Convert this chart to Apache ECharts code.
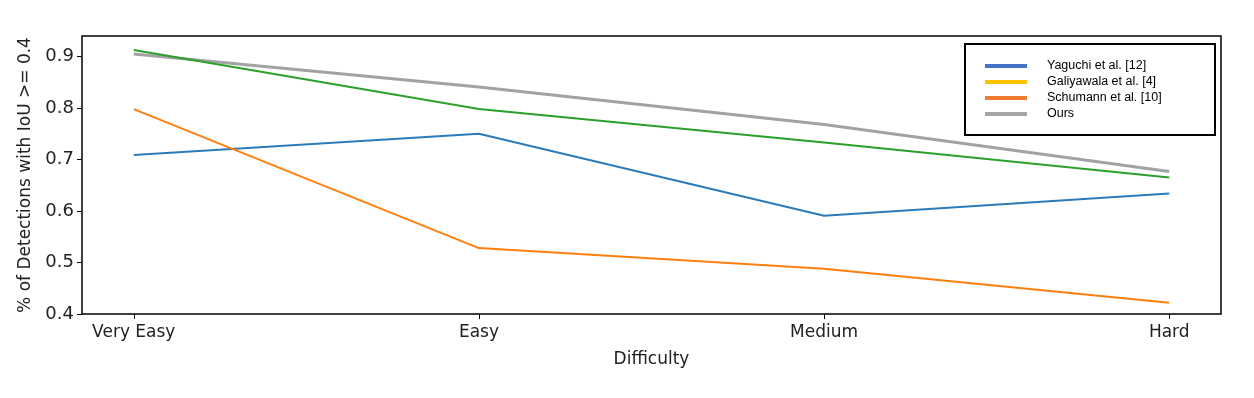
<!DOCTYPE html>
<html><head><meta charset="utf-8">
<script src="https://cdn.jsdelivr.net/npm/echarts@6/dist/echarts.min.js"></script>
<style>html,body{margin:0;padding:0;background:#fff}#c{width:1254px;height:398px}</style>
</head><body><div id="c"></div>
<script>
var categories = ['Very Easy', 'Easy', 'Medium', 'Hard'];
var yTicks = [0.4, 0.5, 0.6, 0.7, 0.8, 0.9];
var yaguchi = [0.709, 0.750, 0.591, 0.634];
var galiyawala = [0.913, 0.798, 0.733, 0.665];
var schumann = [0.798, 0.528, 0.488, 0.422];
var ours = [0.905, 0.841, 0.768, 0.677];
var seriesNames = ['Yaguchi et al. [12]', 'Galiyawala et al. [4]', 'Schumann et al. [10]', 'Ours'];
var lineColors = ['#2b7bba', '#2ca02c', '#ff7f0e', '#a2a2a2'];
var legendColors = ['#4472c4', '#ffc000', '#ed7d31', '#a5a5a5'];
var seriesData = [yaguchi, galiyawala, schumann, ours];

function pts(arr) { return arr.map(function (v, i) { return [i, v]; }); }
var font = 'DejaVu Sans';
var chart = echarts.init(document.getElementById('c'));
chart.setOption({
  animation: false,
  grid: { left: 82, right: 33, top: 36, bottom: 84, show: true, borderColor: '#000', borderWidth: 1.5, backgroundColor: 'transparent' },
  xAxis: {
    type: 'value', min: -0.15, max: 3.15,
    name: 'Difficulty', nameLocation: 'middle', nameGap: 37,
    nameTextStyle: { fontFamily: font, fontSize: 17, color: '#222' },
    axisLine: { show: false, onZero: false },
    splitLine: { show: false },
    axisTick: { show: true, length: 5, inside: false, lineStyle: { color: '#000', width: 1 }, customValues: [0, 1, 2, 3] },
    axisLabel: { customValues: [0, 1, 2, 3], formatter: function (v) { return categories[Math.round(v)]; }, fontFamily: font, fontSize: 17, color: '#222', margin: 10 }
  },
  yAxis: {
    type: 'value', min: 0.4, max: 0.94,
    name: '% of Detections with IoU >= 0.4', nameLocation: 'middle', nameGap: 46,
    nameTextStyle: { fontFamily: font, fontSize: 17, color: '#222' },
    axisLine: { show: false, onZero: false },
    splitLine: { show: false },
    axisTick: { show: true, length: 5, lineStyle: { color: '#000', width: 1 }, customValues: yTicks },
    axisLabel: { customValues: yTicks, formatter: function (v) { return v.toFixed(1); }, fontFamily: font, fontSize: 18, color: '#222', margin: 8 }
  },
  legend: {
    orient: 'vertical', left: 980, top: 54, icon: 'rect', itemWidth: 42, itemHeight: 4, itemGap: 2,
    textStyle: { fontFamily: 'Liberation Sans', fontSize: 12.5, color: '#000', padding: [0, 0, 0, 15], lineHeight: 14 },
    data: seriesNames.map(function (n, i) { return { name: n, icon: 'rect', itemStyle: { color: legendColors[i] } }; })
  },
  graphic: [{ type: 'rect', shape: { x: 965, y: 44, width: 250, height: 91 }, style: { fill: 'none', stroke: '#000', lineWidth: 2 }, z: 100 }],
  series: seriesData.map(function (d, i) {
    return {
      name: seriesNames[i], type: 'line', data: pts(d), symbol: 'none',
      lineStyle: { color: lineColors[i], width: i === 3 ? 3 : 2 },
      itemStyle: { color: lineColors[i] }, z: i === 3 ? 1 : 2
    };
  })
});
</script></body></html>
